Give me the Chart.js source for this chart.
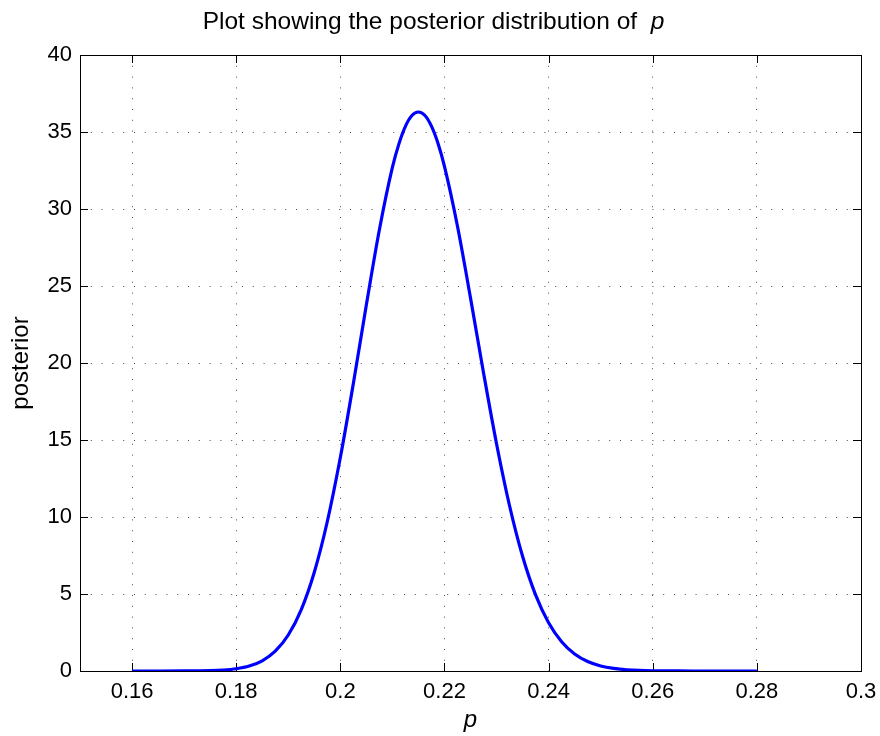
<!DOCTYPE html>
<html lang="en">

<head>
    <meta charset="UTF-8">
    <title>Posterior distribution of p</title>
    <script src="https://cdn.jsdelivr.net/npm/chart.js"></script>
    <style>
        body { margin: 0; background: #fff; }
    </style>
</head>

<body>
    <canvas id="postChart" width="880" height="736"></canvas>
    <script>
        // posterior density read at points along p
        var pValues = [0.16, 0.165, 0.17, 0.175, 0.1775, 0.18, 0.1825, 0.185, 0.1875, 0.19,
            0.1925, 0.195, 0.1975, 0.2, 0.2025, 0.205, 0.2075, 0.21, 0.21125, 0.2125,
            0.21375, 0.215, 0.21625, 0.2175, 0.21875, 0.22, 0.2225, 0.225, 0.2275, 0.23,
            0.2325, 0.235, 0.2375, 0.24, 0.2425, 0.245, 0.2475, 0.25, 0.2525, 0.255,
            0.2575, 0.26, 0.265, 0.27, 0.275, 0.28];
        var posterior = [0.0, 0.0004, 0.003, 0.024, 0.061, 0.145, 0.321, 0.663, 1.285, 2.336,
            3.991, 6.414, 9.708, 13.86, 18.67, 23.78, 28.65, 32.70, 34.23, 35.37,
            36.07, 36.30, 36.07, 35.38, 34.27, 32.77, 28.88, 24.23, 19.37, 14.76,
            10.73, 7.449, 4.940, 3.132, 1.900, 1.103, 0.613, 0.327, 0.167, 0.082,
            0.038, 0.017, 0.003, 0.0005, 0.0001, 0.0];

        var xTicks = [0.16, 0.18, 0.2, 0.22, 0.24, 0.26, 0.28, 0.3];
        var yTicks = [0, 5, 10, 15, 20, 25, 30, 35, 40];

        var FONT = '"Liberation Sans", Arial, Helvetica, sans-serif';
        var gridColor = 'rgba(0, 0, 0, 0.7)';

        // axes box with inward tick marks on all four sides
        var boxPlugin = {
            id: 'box',
            beforeDatasetsDraw: function (chart) {
                var ctx = chart.ctx, a = chart.chartArea;
                var xs = chart.scales.x, ys = chart.scales.y;
                var len = 8;
                ctx.save();
                ctx.strokeStyle = '#000';
                ctx.lineWidth = 1;
                ctx.beginPath();
                xs.ticks.forEach(function (t) {
                    var px = Math.round(xs.getPixelForValue(t.value)) + 0.5;
                    ctx.moveTo(px, a.bottom); ctx.lineTo(px, a.bottom - len);
                    ctx.moveTo(px, a.top); ctx.lineTo(px, a.top + len);
                });
                ys.ticks.forEach(function (t) {
                    var py = Math.round(ys.getPixelForValue(t.value)) + 0.5;
                    ctx.moveTo(a.left, py); ctx.lineTo(a.left + len, py);
                    ctx.moveTo(a.right, py); ctx.lineTo(a.right - len, py);
                });
                ctx.stroke();
                ctx.strokeRect(Math.round(a.left) + 0.5, Math.round(a.top) + 0.5,
                    Math.round(a.right - a.left), Math.round(a.bottom - a.top));
                ctx.restore();
            }
        };

        // title with an italic p at the end
        var titlePlugin = {
            id: 'plotTitle',
            afterDraw: function (chart) {
                var ctx = chart.ctx, a = chart.chartArea;
                var main = 'Plot showing the posterior distribution of  ';
                var fMain = '24.5px ' + FONT, fIt = 'italic 24.5px ' + FONT;
                ctx.save();
                ctx.fillStyle = '#000';
                ctx.textBaseline = 'alphabetic';
                ctx.font = fMain;
                var w1 = ctx.measureText(main).width;
                ctx.font = fIt;
                var w2 = ctx.measureText('p').width;
                var cx = (a.left + a.right) / 2 - 37;
                var x0 = cx - (w1 + w2) / 2;
                ctx.font = fMain;
                ctx.fillText(main, x0, 29);
                ctx.font = fIt;
                ctx.fillText('p', x0 + w1, 29);
                ctx.restore();
            }
        };

        var points = pValues.map(function (p, i) { return { x: p, y: posterior[i] }; });

        var postCtx = document.getElementById('postChart').getContext('2d');
        var postChart = new Chart(postCtx, {
            type: 'line',
            data: {
                datasets: [{
                    data: points,
                    borderColor: '#0000ff',
                    borderWidth: 3.2,
                    pointRadius: 0,
                    fill: false,
                    cubicInterpolationMode: 'monotone'
                }]
            },
            options: {
                responsive: false,
                animation: false,
                layout: { padding: { top: 55, right: 19, bottom: 0, left: 0 } },
                plugins: {
                    legend: { display: false },
                    tooltip: { enabled: false },
                    title: { display: false }
                },
                scales: {
                    x: {
                        type: 'linear',
                        min: 0.15,
                        max: 0.3,
                        afterBuildTicks: function (s) {
                            s.ticks = xTicks.map(function (v) { return { value: v }; });
                        },
                        afterFit: function (s) {
                            s.height = 65;
                            s.paddingLeft = 0;
                            s.paddingRight = 0;
                        },
                        grid: { color: gridColor, lineWidth: 1, drawTicks: false },
                        border: { display: false, dash: [1, 9.8] },
                        ticks: {
                            padding: 8,
                            color: '#000',
                            font: { family: FONT, size: 22 },
                            callback: function (v) { return String(parseFloat(v.toFixed(2))); }
                        },
                        title: {
                            display: true,
                            text: 'p',
                            color: '#000',
                            font: { family: FONT, size: 24, style: 'italic' },
                            padding: { top: 0, bottom: 1 }
                        }
                    },
                    y: {
                        type: 'linear',
                        min: 0,
                        max: 40,
                        afterBuildTicks: function (s) {
                            s.ticks = yTicks.map(function (v) { return { value: v }; });
                        },
                        afterFit: function (s) {
                            s.width = 80;
                            s.paddingTop = 0;
                            s.paddingBottom = 0;
                        },
                        grid: { color: gridColor, lineWidth: 1, drawTicks: false },
                        border: { display: false, dash: [1, 9.8] },
                        ticks: {
                            padding: 8,
                            color: '#000',
                            font: { family: FONT, size: 22 }
                        },
                        title: {
                            display: true,
                            text: 'posterior',
                            color: '#000',
                            font: { family: FONT, size: 24 },
                            padding: { top: 6.5, bottom: 0 }
                        }
                    }
                }
            },
            plugins: [boxPlugin, titlePlugin]
        });
    </script>
</body>

</html>
